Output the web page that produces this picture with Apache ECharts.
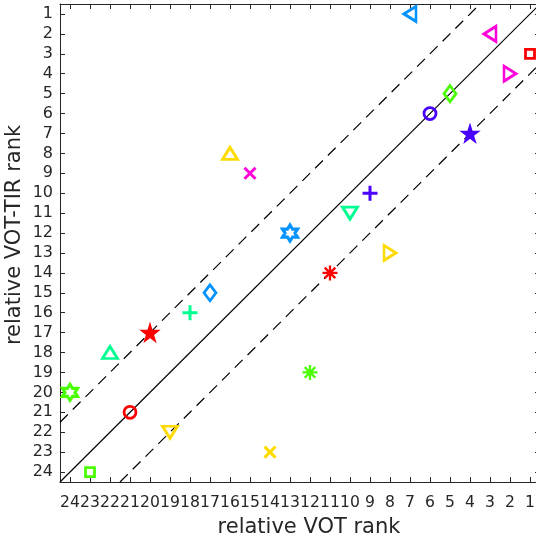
<!DOCTYPE html>
<html>
<head>
<meta charset="utf-8">
<script src="https://cdn.jsdelivr.net/npm/echarts@6/dist/echarts.min.js"></script>
<style>html,body{margin:0;padding:0;background:#fff}#c{width:536px;height:540px}</style>
</head>
<body>
<div id="c"></div>
<script>
// ---- data ----
const rankTicks = [1,2,3,4,5,6,7,8,9,10,11,12,13,14,15,16,17,18,19,20,21,22,23,24];
const votRank    = [7,3,1,2,5,6,4,16,15,9,10,13,8,11,17,18,20,22,12,24,21,19,14,23];
const votTirRank = [1,2,3,4,5,6,7,8,9,10,11,12,13,14,15,16,17,18,19,20,21,22,23,24];
const markerKind = ['<','<','s','>','d','o','p','^','x','+','v','h','>','*','d','+','p','^','*','h','o','v','x','s'];
const colorKind  = ['blue','magenta','red','magenta','green','violet','violet','yellow','magenta','violet','cyan','blue','yellow','red','blue','cyan','red','cyan','green','green','red','yellow','yellow','green'];
const bandOffset = 3;
const rankMin = 0.5, rankMax = 24.5;

// ---- styles ----
const palette = {red:'#FF0000', yellow:'#FFDB00', green:'#49FF00', cyan:'#00FF92', blue:'#0092FF', violet:'#4900FF', magenta:'#FF00DB'};
const PENT = 'path://M50,0L61.23,34.55L97.55,34.55L68.16,55.9L79.39,90.45L50,69.1L20.61,90.45L31.84,55.9L2.45,34.55L38.77,34.55Z';
const HEX = 'path://M50,0L64.43,25L93.3,25L78.87,50L93.3,75L64.43,75L50,100L35.57,75L6.7,75L21.13,50L6.7,25L35.57,25Z';
const markerStyle = {
  '^': {symbol:'triangle', size:[15,12], rot:0, fill:false, bw:2.8},
  'v': {symbol:'triangle', size:[15,12], rot:180, fill:false, bw:2.8},
  '<': {symbol:'triangle', size:[15,12], rot:90, fill:false, bw:2.8},
  '>': {symbol:'triangle', size:[15,12], rot:-90, fill:false, bw:2.8},
  's': {symbol:'rect', size:9, rot:0, fill:false, bw:2.8},
  'o': {symbol:'circle', size:12, rot:0, fill:false, bw:2.8},
  'd': {symbol:'diamond', size:[12,16], rot:0, fill:false, bw:2.8},
  'p': {symbol:PENT, size:17, rot:0, fill:true, bw:1.5},
  'h': {symbol:HEX, size:[15,16], rot:0, fill:false, bw:3.2},
  '+': {symbol:'path://M0,5L10,5M5,0L5,10', size:15, rot:0, fill:false, bw:3},
  'x': {symbol:'path://M0,0L10,10M10,0L0,10', size:11, rot:0, fill:false, bw:3},
  '*': {symbol:'path://M5,0L5,10M0,5L10,5M1.46,1.46L8.54,8.54M8.54,1.46L1.46,8.54', size:15, rot:0, fill:false, bw:2.3}
};
const TXT = '#262626';
const FONT = 'DejaVu Sans';

const points = votRank.map((v, i) => {
  const m = markerStyle[markerKind[i]];
  const c = palette[colorKind[i]];
  return {
    value: [v, votTirRank[i]],
    symbol: m.symbol,
    symbolSize: m.size,
    symbolRotate: m.rot,
    itemStyle: {color: m.fill ? c : 'rgba(0,0,0,0)', borderColor: c, borderWidth: m.bw, opacity: 1}
  };
});

const lineSeries = (data, type) => ({
  type: 'line', data: data, symbol: 'none', silent: true, z: 1,
  lineStyle: {color: '#000', width: 1.2, type: type}
});

const axisCommon = (pos, showLabel, isY) => ({
  type: 'value', position: pos, min: rankMin, max: rankMax, inverse: true,
  splitLine: {show: false},
  axisLine: {show: true, onZero: false, lineStyle: {color: TXT, width: 1}},
  axisTick: {show: true, inside: true, length: 5, customValues: rankTicks, lineStyle: {color: TXT, width: 1}},
  axisLabel: {show: showLabel, customValues: rankTicks, hideOverlap: false, showMinLabel: true, showMaxLabel: true,
              color: TXT, fontFamily: FONT, fontSize: isY ? 16 : 15.6, margin: isY ? 7 : 13}
});

const chart = echarts.init(document.getElementById('c'), null, {renderer: 'canvas'});
chart.setOption({
  animation: false,
  backgroundColor: '#fff',
  grid: {left: 60, top: 4, width: 480, height: 478, containLabel: false, outerBoundsMode: 'none'},
  xAxis: [axisCommon('bottom', true, false), axisCommon('top', false, false)],
  yAxis: [axisCommon('left', true, true), axisCommon('right', false, true)],
  series: [
    lineSeries([[rankMax, rankMax], [rankMin, rankMin]], 'solid'),
    lineSeries([[rankMax, rankMax - bandOffset], [rankMin + bandOffset, rankMin]], [11, 7]),
    lineSeries([[rankMax - bandOffset, rankMax], [rankMin, rankMin + bandOffset]], [11, 7]),
    {type: 'scatter', data: points, z: 5, silent: true}
  ],
  graphic: [
    {type: 'text', x: 309, y: 528, style: {text: 'relative VOT rank', fill: TXT, font: '21px "DejaVu Sans"', align: 'center', verticalAlign: 'middle'}},
    {type: 'text', x: 15, y: 235, rotation: Math.PI / 2, style: {text: 'relative VOT-TIR rank', fill: TXT, font: '21px "DejaVu Sans"', align: 'center', verticalAlign: 'middle'}}
  ]
});
</script>
</body>
</html>
